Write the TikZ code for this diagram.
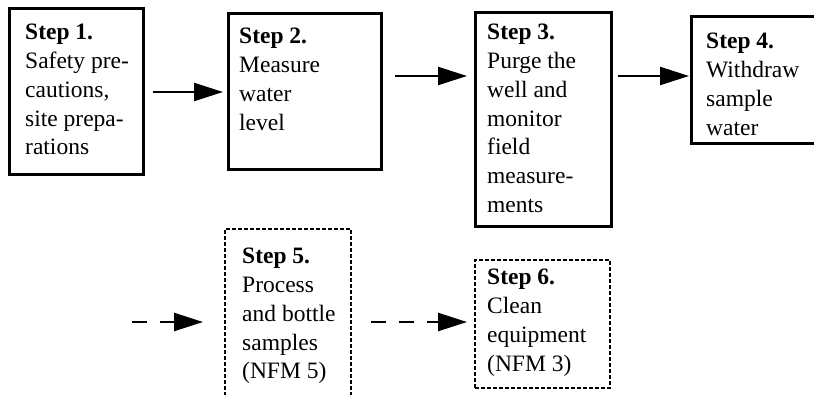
\documentclass[tikz,border=0pt]{standalone}
\usepackage{fontspec}
\setmainfont{Liberation Serif}
\usetikzlibrary{arrows.meta}
\begin{document}
\begin{tikzpicture}[x=1pt,y=-1pt]
\tikzset{
 boxs/.style={draw, line width=3pt, rectangle, inner sep=0pt},
 boxd/.style={draw, line width=2.6pt, rectangle, dash pattern=on 4pt off 2pt, inner sep=0pt},
 txt/.style={anchor=base west, inner sep=0pt, font=\fontsize{23.5}{28.7}\selectfont},
 arr/.style={line width=2.4pt, -{Triangle[length=29pt,width=18pt]}},
 darr/.style={arr, dash pattern=on 15pt off 13pt},
}
\useasboundingbox (0,0) rectangle (814,395);
\clip (0,0) rectangle (814,395);
% boxes
\node[boxs, minimum width=134pt, minimum height=166pt] (b1) at (76,92) {};
\node[boxs, minimum width=153pt, minimum height=156pt] (b2) at (304.5,92) {};
\node[boxs, minimum width=136pt, minimum height=214pt] (b3) at (543,120) {};
\node[boxs, minimum width=139pt, minimum height=127pt] (b4) at (760.5,80.5) {};
\node[boxd, minimum width=126pt, minimum height=191pt] (b5) at (288,324.5) {};
\node[boxd, minimum width=135pt, minimum height=128pt] (b6) at (542.5,324) {};
% texts
\node[txt] (t1) at (25,40) {\begin{tabular}[t]{@{}l@{}}\textbf{Step 1.}\\Safety pre-\\cautions,\\site prepa-\\rations\end{tabular}};
\node[txt] (t2) at (239,44) {\begin{tabular}[t]{@{}l@{}}\textbf{Step 2.}\\Measure\\water\\level\end{tabular}};
\node[txt] (t3) at (487,40) {\begin{tabular}[t]{@{}l@{}}\textbf{Step 3.}\\Purge the\\well and\\monitor\\field\\measure-\\ments\end{tabular}};
\node[txt] (t4) at (706,49) {\begin{tabular}[t]{@{}l@{}}\textbf{Step 4.}\\Withdraw\\sample\\water\end{tabular}};
\node[txt] (t5) at (242,264) {\begin{tabular}[t]{@{}l@{}}\textbf{Step 5.}\\Process\\and bottle\\samples\\(NFM 5)\end{tabular}};
\node[txt] (t6) at (487,285) {\begin{tabular}[t]{@{}l@{}}\textbf{Step 6.}\\Clean\\equipment\\(NFM 3)\end{tabular}};
% arrow ends
\coordinate (a1s) at (153,92);  \coordinate (a1e) at (223,92);
\coordinate (a2s) at (395,76);  \coordinate (a2e) at (467,76);
\coordinate (a3s) at (618,76);  \coordinate (a3e) at (689,76);
\coordinate (a4s) at (132,322); \coordinate (a4e) at (203,322);
\coordinate (a5s) at (371,322); \coordinate (a5e) at (467,322);
\draw[arr] (a1s) -- (a1e);
\draw[arr] (a2s) -- (a2e);
\draw[arr] (a3s) -- (a3e);
\draw[darr] (a4s) -- (a4e);
\draw[darr] (a5s) -- (a5e);
\end{tikzpicture}
\end{document}
